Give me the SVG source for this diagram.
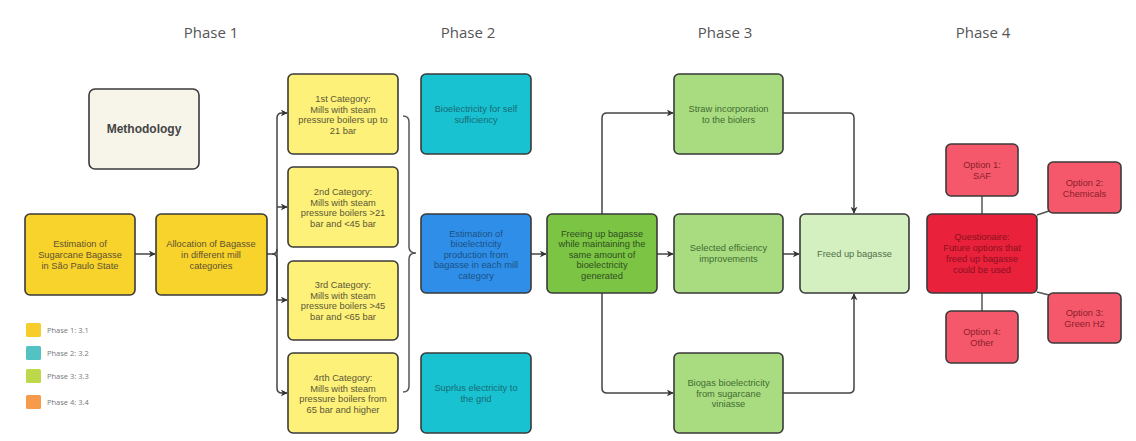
<svg xmlns="http://www.w3.org/2000/svg" width="1136" height="441" viewBox="0 0 1136 441">
  <defs>
    <marker id="arrow" viewBox="0 0 10 10" refX="9" refY="5" markerWidth="7" markerHeight="7" orient="auto" markerUnits="userSpaceOnUse">
      <path d="M0,0 L10,5 L0,10 L3,5 Z" fill="#333"/>
    </marker>
    <style>
      .box { stroke: #3a3a3a; stroke-width: 1.6; }
      .lbl { font-family: "Liberation Sans", Arial, sans-serif; font-size: 9.3px; text-anchor: middle; }
      .phase { font-family: "Open Sans", "Liberation Sans", sans-serif; font-size: 15px; fill: #555; text-anchor: middle; }
      .legend { font-family: "Open Sans", "Liberation Sans", sans-serif; font-size: 7.5px; fill: #777; }
      .conn { fill: none; stroke: #444; stroke-width: 1.5; }
      .link { fill: none; stroke: #555; stroke-width: 1.5; }
      .gold { fill: #f8d32c; }
      .cat { fill: #fdf17a; }
      .teal { fill: #19c2d0; }
      .blue { fill: #2f8fe8; }
      .green { fill: #7cc444; }
      .lgreen { fill: #a9dc80; }
      .pale { fill: #d4efc0; }
      .red { fill: #e9213b; }
      .opt { fill: #f5586a; }
      .t-gold { fill: #5e5230; }
      .t-cat { fill: #5c5735; }
      .t-teal { fill: #166b78; }
      .t-blue { fill: #1c4f86; }
      .t-green { fill: #2e4f1e; }
      .t-lgreen { fill: #426c30; }
      .t-pale { fill: #52704a; }
      .t-red { fill: #8c1020; }
      .t-opt { fill: #8c1e2c; }
    </style>
  </defs>

  <rect width="1136" height="441" fill="#ffffff"/>

  <!-- phase headings -->
  <g id="headings">
    <text class="phase" x="211" y="38">Phase 1</text>
    <text class="phase" x="468" y="38">Phase 2</text>
    <text class="phase" x="725" y="38">Phase 3</text>
    <text class="phase" x="983" y="38">Phase 4</text>
  </g>

  <!-- connectors -->
  <g id="connectors">
    <line class="conn" x1="135" y1="254" x2="155" y2="254" marker-end="url(#arrow)"/>
    <!-- fan-out to the four mill categories -->
    <path class="conn" d="M267,254 H272 Q277,254 277,249 V118 Q277,113 282,113 H287" marker-end="url(#arrow)"/>
    <path class="conn" d="M277,207 H287" marker-end="url(#arrow)"/>
    <path class="conn" d="M277,249 V300 H287" marker-end="url(#arrow)"/>
    <path class="conn" d="M272,254 Q277,254 277,259 V388 Q277,393 282,393 H287" marker-end="url(#arrow)"/>
    <!-- brace grouping the categories -->
    <path class="link" d="M403,116 Q409,116 409,122 V247 Q409,253 416,253 Q409,253 409,259 V386 Q409,392 403,392"/>
    <line class="conn" x1="531" y1="254" x2="546" y2="254" marker-end="url(#arrow)"/>
    <!-- phase 3 routes -->
    <path class="conn" d="M602,214 V118 Q602,113 607,113 H673" marker-end="url(#arrow)"/>
    <line class="conn" x1="657" y1="254" x2="673" y2="254" marker-end="url(#arrow)"/>
    <path class="conn" d="M602,293 V388 Q602,393 607,393 H673" marker-end="url(#arrow)"/>
    <path class="conn" d="M783,113 H849 Q854,113 854,118 V213" marker-end="url(#arrow)"/>
    <line class="conn" x1="783" y1="254" x2="799" y2="254" marker-end="url(#arrow)"/>
    <path class="conn" d="M783,393 H849 Q854,393 854,388 V294" marker-end="url(#arrow)"/>
    <!-- phase 4 links -->
    <line class="link" x1="982" y1="196" x2="982" y2="214"/>
    <line class="link" x1="1037" y1="215" x2="1049" y2="211"/>
    <line class="link" x1="1037" y1="292" x2="1049" y2="295"/>
    <line class="link" x1="982" y1="293" x2="982" y2="311"/>
  </g>

  <g id="methodology">
    <rect x="89" y="89" width="110" height="80" rx="6" fill="#f7f4ea" class="box"/>
    <text x="144" y="133" font-family="Liberation Sans, Arial, sans-serif" font-size="12" font-weight="bold" fill="#444" text-anchor="middle">Methodology</text>
  </g>

  <g id="estimation">
    <rect x="25" y="214" width="110" height="81" rx="5" class="box gold"/>
    <text class="lbl t-gold" x="80" y="247">Estimation of</text>
    <text class="lbl t-gold" x="80" y="258">Sugarcane Bagasse</text>
    <text class="lbl t-gold" x="80" y="268.5">in São Paulo State</text>
  </g>

  <g id="allocation">
    <rect x="156" y="214" width="111" height="81" rx="5" class="box gold"/>
    <text class="lbl t-gold" x="211" y="247">Allocation of Bagasse</text>
    <text class="lbl t-gold" x="211" y="258">in different mill</text>
    <text class="lbl t-gold" x="211" y="268.5">categories</text>
  </g>

  <g id="cat1">
    <rect x="288" y="74" width="110" height="80" rx="5" class="box cat"/>
    <text class="lbl t-cat" x="343" y="101.5">1st Category:</text>
    <text class="lbl t-cat" x="343" y="112.5">Mills with steam</text>
    <text class="lbl t-cat" x="343" y="123">pressure boilers up to</text>
    <text class="lbl t-cat" x="343" y="134">21 bar</text>
  </g>

  <g id="cat2">
    <rect x="288" y="167" width="110" height="80" rx="5" class="box cat"/>
    <text class="lbl t-cat" x="343" y="194.5">2nd Category:</text>
    <text class="lbl t-cat" x="343" y="205.5">Mills with steam</text>
    <text class="lbl t-cat" x="343" y="216">pressure boilers &gt;21</text>
    <text class="lbl t-cat" x="343" y="227">bar and &lt;45 bar</text>
  </g>

  <g id="cat3">
    <rect x="288" y="261" width="110" height="79" rx="5" class="box cat"/>
    <text class="lbl t-cat" x="343" y="288">3rd Category:</text>
    <text class="lbl t-cat" x="343" y="298.5">Mills with steam</text>
    <text class="lbl t-cat" x="343" y="309">pressure boilers &gt;45</text>
    <text class="lbl t-cat" x="343" y="320">bar and &lt;65 bar</text>
  </g>

  <g id="cat4">
    <rect x="288" y="353" width="110" height="80" rx="5" class="box cat"/>
    <text class="lbl t-cat" x="343" y="381">4rth Category:</text>
    <text class="lbl t-cat" x="343" y="391.5">Mills with steam</text>
    <text class="lbl t-cat" x="343" y="402">pressure boilers from</text>
    <text class="lbl t-cat" x="343" y="412.5">65 bar and higher</text>
  </g>

  <g id="self-sufficiency">
    <rect x="421" y="74" width="110" height="80" rx="5" class="box teal"/>
    <text class="lbl t-teal" x="476" y="112">Bioelectricity for self</text>
    <text class="lbl t-teal" x="476" y="123">sufficiency</text>
  </g>

  <g id="estimation-bioelectricity">
    <rect x="421" y="214" width="110" height="79" rx="5" class="box blue"/>
    <text class="lbl t-blue" x="476" y="236.5">Estimation of</text>
    <text class="lbl t-blue" x="476" y="247">bioelectricity</text>
    <text class="lbl t-blue" x="476" y="257.5">production from</text>
    <text class="lbl t-blue" x="476" y="268">bagasse in each mill</text>
    <text class="lbl t-blue" x="476" y="278.5">category</text>
  </g>

  <g id="surplus">
    <rect x="421" y="353" width="110" height="80" rx="5" class="box teal"/>
    <text class="lbl t-teal" x="476" y="391">Suprlus electricity to</text>
    <text class="lbl t-teal" x="476" y="402">the grid</text>
  </g>

  <g id="freeing">
    <rect x="547" y="214" width="110" height="79" rx="5" class="box green"/>
    <text class="lbl t-green" x="602" y="236.5">Freeing up bagasse</text>
    <text class="lbl t-green" x="602" y="247">while maintaining the</text>
    <text class="lbl t-green" x="602" y="257.5">same amount of</text>
    <text class="lbl t-green" x="602" y="268">bioelectricity</text>
    <text class="lbl t-green" x="602" y="278.5">generated</text>
  </g>

  <g id="straw">
    <rect x="674" y="74" width="109" height="80" rx="5" class="box lgreen"/>
    <text class="lbl t-lgreen" x="728.5" y="112">Straw incorporation</text>
    <text class="lbl t-lgreen" x="728.5" y="123">to the biolers</text>
  </g>

  <g id="efficiency">
    <rect x="674" y="214" width="109" height="79" rx="5" class="box lgreen"/>
    <text class="lbl t-lgreen" x="728.5" y="251">Selected efficiency</text>
    <text class="lbl t-lgreen" x="728.5" y="262">improvements</text>
  </g>

  <g id="biogas">
    <rect x="674" y="353" width="109" height="80" rx="5" class="box lgreen"/>
    <text class="lbl t-lgreen" x="728.5" y="386">Biogas bioelectricity</text>
    <text class="lbl t-lgreen" x="728.5" y="396.5">from sugarcane</text>
    <text class="lbl t-lgreen" x="728.5" y="407">viniasse</text>
  </g>

  <g id="freed">
    <rect x="800" y="214" width="109" height="79" rx="5" class="box pale"/>
    <text class="lbl t-pale" x="854.5" y="256.5">Freed up bagasse</text>
  </g>

  <g id="questionnaire">
    <rect x="927" y="214" width="110" height="79" rx="5" class="box red"/>
    <text class="lbl t-red" x="982" y="240">Questionaire:</text>
    <text class="lbl t-red" x="982" y="251">Future options that</text>
    <text class="lbl t-red" x="982" y="261.5">freed up bagasse</text>
    <text class="lbl t-red" x="982" y="272.5">could be used</text>
  </g>

  <g id="option1">
    <rect x="946" y="144" width="72" height="52" rx="5" class="box opt"/>
    <text class="lbl t-opt" x="982" y="168">Option 1:</text>
    <text class="lbl t-opt" x="982" y="178.5">SAF</text>
  </g>

  <g id="option2">
    <rect x="1048" y="162" width="73" height="51" rx="5" class="box opt"/>
    <text class="lbl t-opt" x="1084.5" y="186">Option 2:</text>
    <text class="lbl t-opt" x="1084.5" y="196.5">Chemicals</text>
  </g>

  <g id="option3">
    <rect x="1048" y="293" width="73" height="50" rx="5" class="box opt"/>
    <text class="lbl t-opt" x="1084.5" y="316">Option 3:</text>
    <text class="lbl t-opt" x="1084.5" y="327">Green H2</text>
  </g>

  <g id="option4">
    <rect x="946" y="311" width="72" height="52" rx="5" class="box opt"/>
    <text class="lbl t-opt" x="982" y="335">Option 4:</text>
    <text class="lbl t-opt" x="982" y="345.5">Other</text>
  </g>

  <g id="legend">
    <rect x="26" y="323" width="15" height="14" rx="1.5" fill="#f6cd2a"/>
    <rect x="26" y="346" width="15" height="14" rx="1.5" fill="#52c2c3"/>
    <rect x="26" y="369" width="15" height="14" rx="1.5" fill="#bdd94a"/>
    <rect x="26" y="395" width="15" height="14" rx="1.5" fill="#f79a4c"/>
    <text class="legend" x="47" y="333">Phase 1: 3.1</text>
    <text class="legend" x="47" y="356">Phase 2: 3.2</text>
    <text class="legend" x="47" y="379">Phase 3: 3.3</text>
    <text class="legend" x="47" y="405">Phase 4: 3.4</text>
  </g>
</svg>
